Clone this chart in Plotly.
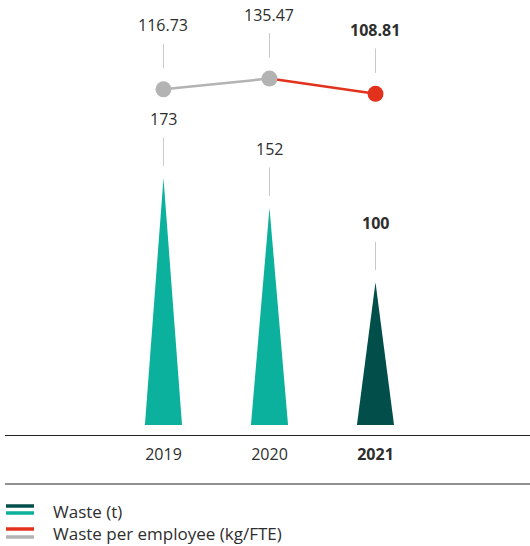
import plotly.graph_objects as go

# ---- data ----
years = ["2019", "2020", "2021"]
waste_t = [173, 152, 100]
waste_per_fte = [116.73, 135.47, 108.81]
waste_labels = ["173", "152", "<b>100</b>"]
fte_labels = ["116.73", "135.47", "<b>108.81</b>"]
year_labels = ["2019", "2020", "<b>2021</b>"]

# ---- style ----
TEAL = "#0bb19c"
DARK_TEAL = "#024e4a"
RED = "#e2321d"
GREY = "#b3b3b3"
LEADER = "#c9c9c9"
TEXT = "#2e2e2e"
FONT = "Open Sans"

W, H = 530, 546
ML, MR, MT, MB = 5, 0, 0, 111
PW, PH = W - ML - MR, H - MT - MB


def px_x(px):
    return (px - ML) / PW


def px_y(py):
    return (H - MB - py) / PH


fig = go.Figure()

# spike (triangle) columns for waste
half_w = 0.175
for i, v in enumerate(waste_t):
    color = DARK_TEAL if i == len(waste_t) - 1 else TEAL
    fig.add_trace(go.Scatter(
        x=[i - half_w, i, i + half_w, i - half_w],
        y=[0, v, 0, 0],
        mode="lines", fill="toself", fillcolor=color,
        line=dict(width=0, color=color),
        hoverinfo="skip", showlegend=False,
    ))

# waste per employee: grey history, red latest segment
idx = list(range(len(years)))
fig.add_trace(go.Scatter(
    x=idx[:2], y=waste_per_fte[:2], yaxis="y2", mode="lines",
    line=dict(color=GREY, width=2.5), showlegend=False, hoverinfo="skip",
))
fig.add_trace(go.Scatter(
    x=idx[1:], y=waste_per_fte[1:], yaxis="y2", mode="lines",
    line=dict(color=RED, width=2.5), showlegend=False, hoverinfo="skip",
))
fig.add_trace(go.Scatter(
    x=idx, y=waste_per_fte, yaxis="y2", mode="markers",
    marker=dict(size=16, color=[GREY, GREY, RED]),
    showlegend=False, hoverinfo="skip",
))

# value labels with thin leader lines
annotations = []
for i, v in enumerate(waste_t):
    annotations.append(dict(
        x=i, y=v, xref="x", yref="y", text=waste_labels[i],
        showarrow=True, arrowhead=0, arrowwidth=1, arrowcolor=LEADER,
        ax=0, ay=-59, standoff=12, startstandoff=6,
        font=dict(family=FONT, size=16, color=TEXT),
    ))
for i, v in enumerate(waste_per_fte):
    annotations.append(dict(
        x=i, y=v, xref="x", yref="y2", text=fte_labels[i],
        showarrow=True, arrowhead=0, arrowwidth=1, arrowcolor=LEADER,
        ax=0, ay=-64, standoff=21, startstandoff=6,
        font=dict(family=FONT, size=16, color=TEXT),
    ))

# legend drawn by hand
legend_items = [
    ("Waste (t)", DARK_TEAL, TEAL, 506, 513, 511),
    ("Waste per employee (kg/FTE)", RED, GREY, 529, 537, 533),
]
shapes = [
    dict(type="line", xref="paper", yref="paper",
         x0=0, x1=1, y0=px_y(484), y1=px_y(484),
         line=dict(color="#222222", width=1.2)),
]
for label, c1, c2, y1, y2, yt in legend_items:
    for yy, cc in ((y1, c1), (y2, c2)):
        shapes.append(dict(
            type="line", xref="paper", yref="paper",
            x0=px_x(6), x1=px_x(34), y0=px_y(yy), y1=px_y(yy),
            line=dict(color=cc, width=3.5),
        ))
    annotations.append(dict(
        x=px_x(51), y=px_y(yt), xref="paper", yref="paper",
        text=label, showarrow=False, xanchor="left", yanchor="middle",
        font=dict(family=FONT, size=17, color=TEXT),
    ))

fig.update_layout(
    width=W, height=H,
    margin=dict(l=ML, r=MR, t=MT, b=MB),
    paper_bgcolor="white", plot_bgcolor="white",
    showlegend=False,
    font=dict(family=FONT, size=16, color=TEXT),
    xaxis=dict(
        range=[-1.495, 3.4575], tickmode="array", tickvals=idx,
        ticktext=year_labels, showgrid=False, zeroline=False,
        showline=True, linecolor="#222222", linewidth=1.2,
        ticks="", ticklabelstandoff=5,
        tickfont=dict(family=FONT, size=16, color=TEXT),
        fixedrange=True,
    ),
    yaxis=dict(range=[-7.0, 297.6], visible=False, fixedrange=True),
    yaxis2=dict(range=[-485.5, 272.3], overlaying="y", visible=False,
                fixedrange=True),
    shapes=shapes,
    annotations=annotations,
)

fig.write_html("out.html")
